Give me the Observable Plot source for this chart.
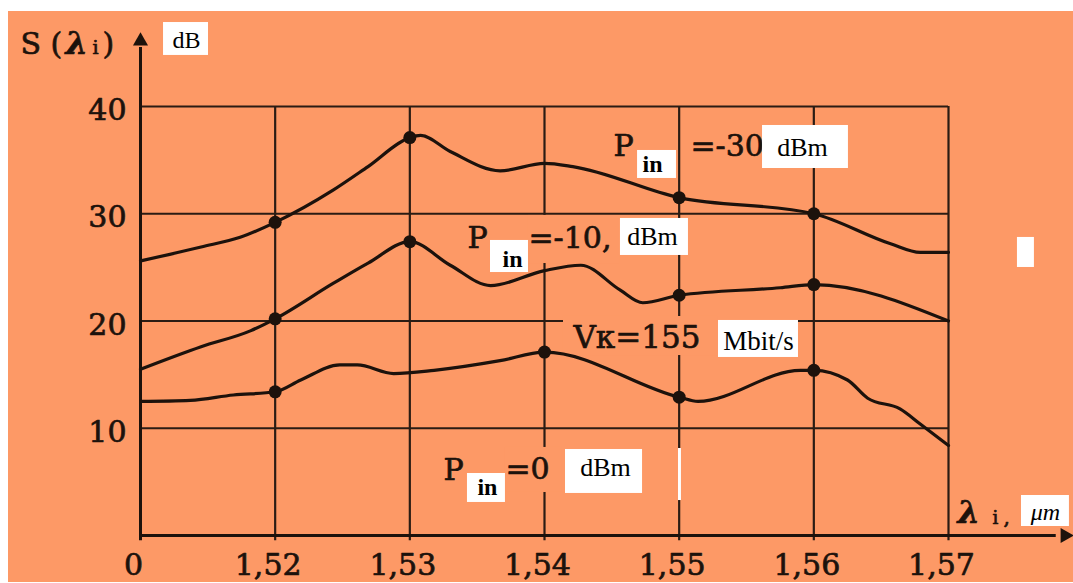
<!DOCTYPE html>
<html><head><meta charset="utf-8">
<script src="https://cdn.jsdelivr.net/npm/d3@7"></script>
<script src="https://cdn.jsdelivr.net/npm/@observablehq/plot@0.6"></script>
<style>
html,body{margin:0;padding:0;background:#fff;}
#wrap{position:relative;width:1073px;height:583px;overflow:hidden;}
#bg{position:absolute;left:8px;top:11px;width:1065px;height:571px;background:#fd9966;}
#chart{position:absolute;left:0;top:0;}
</style></head><body>
<div id="wrap"><div id="bg"></div><div id="chart"></div></div>
<script>
// ---- data ----
const xTicks = [1.51, 1.52, 1.53, 1.54, 1.55, 1.56, 1.57];
const xTickLabels = ["0", "1,52", "1,53", "1,54", "1,55", "1,56", "1,57"];
const yTicks = [10, 20, 30, 40];
const yTickLabels = ["10", "20", "30", "40"];

const pin30X = [1.51, 1.5145, 1.5174, 1.52, 1.5243, 1.5269, 1.53, 1.5308, 1.533, 1.5367, 1.54, 1.5421, 1.55, 1.56, 1.5657, 1.5679, 1.57];
const pin30Y = [25.6, 26.9, 27.8, 29.2, 32.2, 34.4, 37.1, 37.3, 35.8, 34.0, 34.7, 34.4, 31.5, 30.0, 27.2, 26.4, 26.4];
const pin30Dots = [1.52, 1.53, 1.55, 1.56];

const pin10X = [1.51, 1.5145, 1.5182, 1.52, 1.5243, 1.5269, 1.53, 1.533, 1.536, 1.54, 1.5427, 1.5456, 1.5473, 1.55, 1.5575, 1.56, 1.57];
const pin10Y = [15.5, 17.6, 19.1, 20.2, 23.5, 25.4, 27.4, 25.2, 23.3, 24.7, 25.2, 22.9, 21.7, 22.4, 23.1, 23.4, 20.0];
const pin10Dots = [1.52, 1.53, 1.55, 1.56];

const pin0X = [1.51, 1.5137, 1.5169, 1.52, 1.5219, 1.5248, 1.5261, 1.5288, 1.5318, 1.5367, 1.54, 1.55, 1.5514, 1.559, 1.56, 1.5625, 1.564, 1.5664, 1.5679, 1.57];
const pin0Y = [12.5, 12.6, 13.1, 13.4, 14.5, 15.9, 15.9, 15.1, 15.4, 16.3, 17.1, 12.9, 12.5, 15.4, 15.4, 14.5, 12.8, 11.8, 10.4, 8.4];
const pin0Dots = [1.52, 1.54, 1.55, 1.56];

// ---- tables built from the arrays ----
const seriesList = [
  {name: "-30", xs: pin30X, ys: pin30Y, dots: pin30Dots},
  {name: "-10", xs: pin10X, ys: pin10Y, dots: pin10Dots},
  {name: "0", xs: pin0X, ys: pin0Y, dots: pin0Dots}
];
const lineRows = seriesList.flatMap(s => s.xs.map((x, i) => ({series: s.name, x, y: s.ys[i]})));
const dotRows = seriesList.flatMap(s => s.dots.map(d => ({series: s.name, x: d, y: s.ys[s.xs.indexOf(d)]})));

// ---- styles ----
const INK = "#1c120c";
const GRID = "#2a1c14";
const ORANGE = "#fd9966";
const NUMFONT = "DejaVu Serif";
const BOXFONT = "Liberation Serif";
const HEAVY = {stroke: INK, strokeWidth: 0.7};

const note = (t, x, y, o = {}) => Plot.text([{x, y, t}], {
  x: "x", y: "y", text: "t", textAnchor: "start", lineAnchor: "bottom",
  fontFamily: NUMFONT, fontSize: 30, fill: INK, ...HEAVY, ...o
});
const boxNote = (t, x, y, o = {}) => note(t, x, y, {fontFamily: BOXFONT, fill: "#000", stroke: "none", ...o});
const box = (x1, x2, y1, y2, fill = "#fff") => Plot.rect([{x1, x2, y1, y2}], {
  x1: "x1", x2: "x2", y1: "y1", y2: "y2", fill
});

const plot = Plot.plot({
  width: 1073,
  height: 583,
  marginLeft: 140,
  marginRight: 125,
  marginTop: 106,
  marginBottom: 48,
  style: {background: "transparent", overflow: "visible"},
  x: {domain: [1.51, 1.57], axis: null},
  y: {domain: [0, 40], axis: null},
  marks: [
    // grid
    Plot.ruleY(yTicks, {x1: 1.51, x2: 1.57, stroke: GRID, strokeWidth: 2}),
    Plot.ruleX(xTicks.slice(1), {y1: -0.5, y2: 40, stroke: GRID, strokeWidth: 2.2}),
    // axes
    Plot.ruleX([1.51], {y1: -0.5, y2: 45.5, stroke: INK, strokeWidth: 3}),
    Plot.ruleY([0], {x1: 1.51, x2: 1.578, stroke: INK, strokeWidth: 3}),
    Plot.dot([{x: 1.51, y: 46.1}], {x: "x", y: "y", symbol: "triangle", r: 5.6, fill: INK}),
    Plot.dot([{x: 1.57865, y: 0}], {x: "x", y: "y", symbol: "triangle", r: 5.6, fill: INK, rotate: 90}),
    // orange erasures behind labels
    box(1.53881, 1.54564, 25.36, 29.84, ORANGE),
    box(1.54141, 1.55292, 16.78, 20.42, ORANGE),
    box(1.53710, 1.54133, 4.01, 8.21, ORANGE),
    box(1.54995, 1.55017, 3.26, 8.11, "#fff"),
    // curves
    Plot.line(lineRows, {x: "x", y: "y", z: "series", curve: "monotone-x", stroke: INK, strokeWidth: 3.2}),
    Plot.dot(dotRows, {x: "x", y: "y", r: 6.5, fill: INK}),
    // tick labels
    Plot.text(xTicks, {x: d => d, y: 0, text: (d, i) => xTickLabels[i], dy: 30, dx: -7, lineAnchor: "middle",
      fontFamily: NUMFONT, fontSize: 30, fill: INK, ...HEAVY}),
    Plot.text(yTicks, {x: 1.51, y: d => d, text: (d, i) => yTickLabels[i], dx: -14, dy: 4, textAnchor: "end", lineAnchor: "middle",
      fontFamily: NUMFONT, fontSize: 30, fill: INK, ...HEAVY}),
    // y axis title  S(λi)  dB
    note("S (", 1.50109, 44.94),
    note("λ", 1.50443, 44.94, {fontWeight: "bold", fontStyle: "italic", fontSize: 32}),
    note("i", 1.50644, 44.94, {fontSize: 19}),
    note(")", 1.50718, 44.94),
    box(1.51171, 1.51505, 44.76, 47.83),
    boxNote("dB", 1.51342, 45.5, {textAnchor: "middle", fontSize: 24}),
    // Pin = -30 dBm
    note("P", 1.54512, 35.43),
    box(1.54691, 1.5498, 33.29, 35.90),
    boxNote("in", 1.54728, 33.85, {fontWeight: "bold", fontSize: 24}),
    note("=-30", 1.55084, 35.34),
    box(1.55619, 1.56257, 34.22, 38.23),
    boxNote("dBm", 1.55916, 35.43, {textAnchor: "middle", fontSize: 26}),
    // Pin = -10 dBm
    note("P", 1.53428, 26.85),
    box(1.53599, 1.53881, 24.52, 27.51),
    boxNote("in", 1.53688, 24.99, {fontWeight: "bold", fontSize: 24}),
    note("=-10,", 1.53881, 26.85),
    box(1.54564, 1.55069, 26.11, 29.56),
    boxNote("dBm", 1.54802, 27.04, {textAnchor: "middle", fontSize: 26}),
    // Vк = 155 Mbit/s
    note("Vк=155", 1.54215, 17.44, {fontSize: 31}),
    box(1.55292, 1.55886, 16.60, 20.05),
    boxNote("Mbit/s", 1.55589, 17.25, {textAnchor: "middle", fontSize: 27}),
    // Pin = 0 dBm
    note("P", 1.53250, 5.13),
    box(1.53428, 1.53710, 3.08, 5.78),
    boxNote("in", 1.53502, 3.73, {fontWeight: "bold", fontSize: 24}),
    note("=0", 1.53710, 5.31),
    box(1.54156, 1.54728, 3.92, 8.02),
    boxNote("dBm", 1.54453, 5.59, {textAnchor: "middle", fontSize: 26}),
    // stray white mark
    box(1.57512, 1.57638, 24.99, 27.79),
    // x axis title  λi, μm
    note("λ", 1.57067, 1.21, {fontWeight: "bold", fontStyle: "italic", fontSize: 32}),
    note("i", 1.57327, 1.03, {fontSize: 18}),
    note(",", 1.57408, 1.03, {fontSize: 20}),
    box(1.57542, 1.57898, 0.84, 3.73),
    boxNote("μm", 1.5772, 1.49, {textAnchor: "middle", fontStyle: "italic", fontSize: 24})
  ]
});
document.getElementById("chart").appendChild(plot);
</script></body></html>
